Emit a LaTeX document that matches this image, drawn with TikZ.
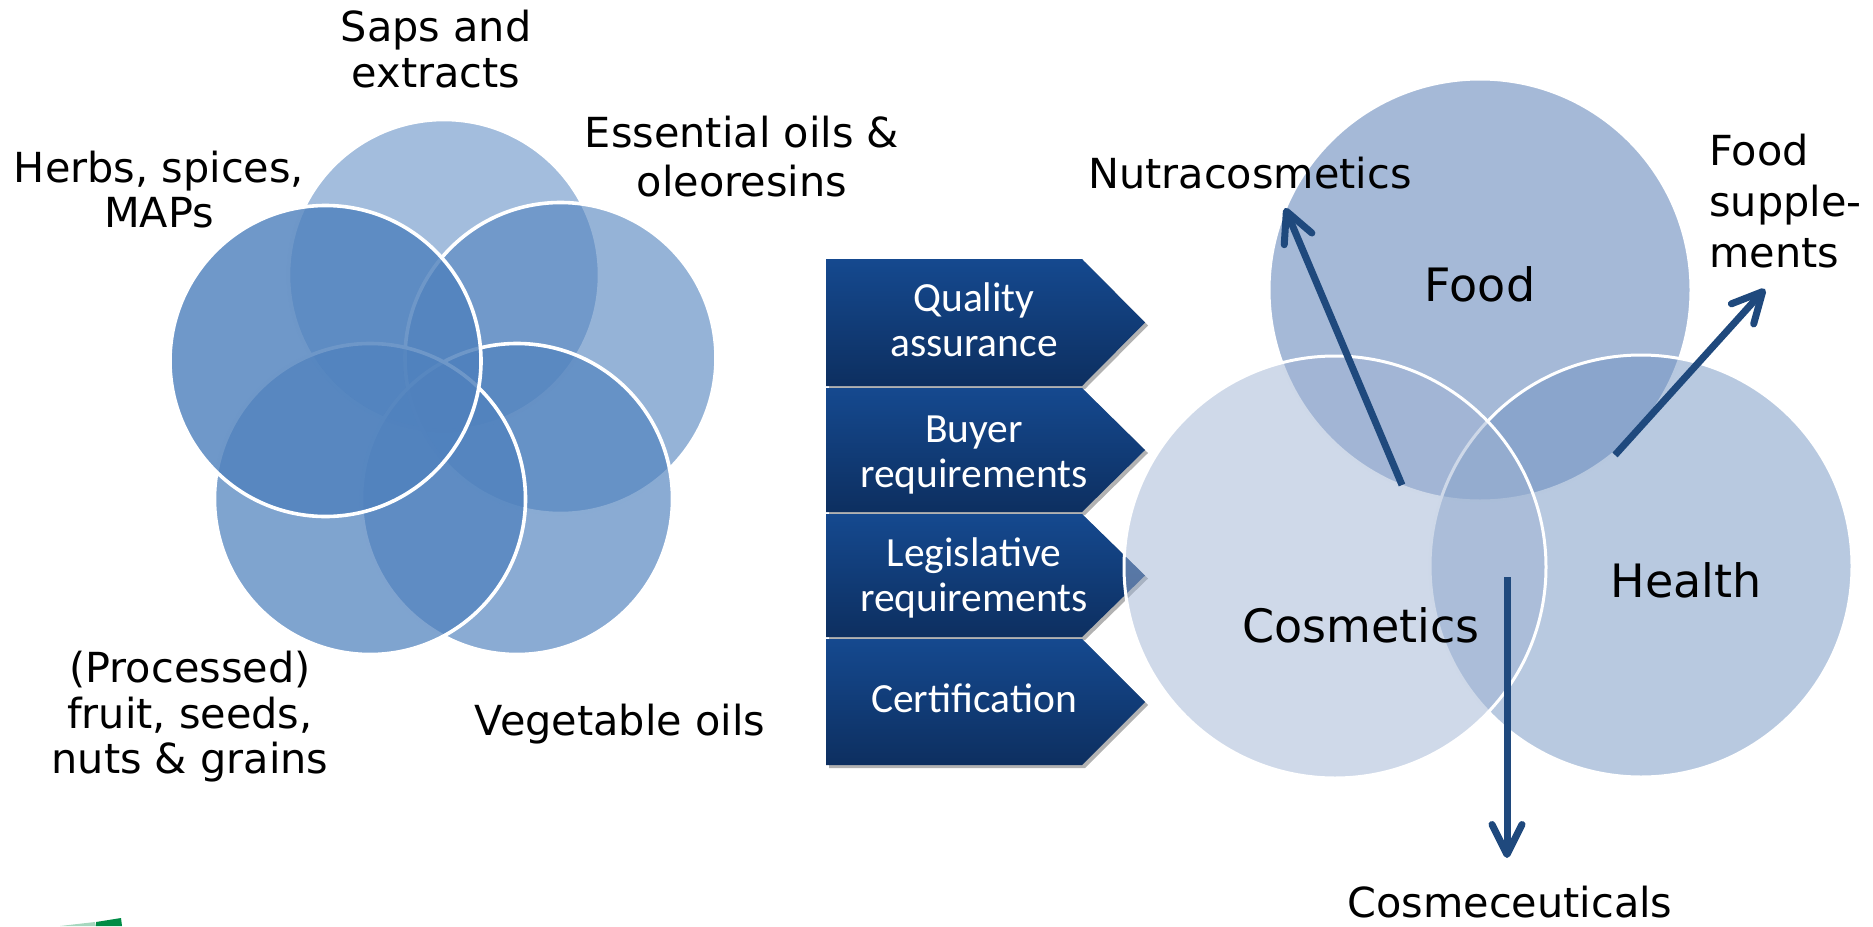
\documentclass[tikz,border=0pt]{standalone}
\usepackage{fontspec}
\setmainfont{DejaVu Sans}
\newfontfamily\chevfont{Carlito}
\usetikzlibrary{arrows.meta,shadows}
\definecolor{accent}{RGB}{79,129,189}
\definecolor{foodc}{RGB}{75,115,175}
\definecolor{healthc}{RGB}{113,147,193}
\definecolor{cosmc}{RGB}{159,179,211}
\definecolor{arrowc}{RGB}{31,73,125}
\definecolor{chevtop}{RGB}{21,73,143}
\definecolor{chevbot}{RGB}{13,47,96}
\definecolor{logogreen}{RGB}{0,140,70}
\begin{document}
\begin{tikzpicture}[x=0.5pt,y=-0.5pt,
  petal/.style={draw=white, line width=1.8pt, fill=accent},
  venn/.style={draw=white, line width=1.5pt, fill opacity=0.5},
  lbl/.style={inner sep=0pt, align=center},
  inlbl/.style={inner sep=0pt, anchor=base, font=\fontsize{23}{27}\selectfont},
  chev/.style={top color=chevtop, bottom color=chevbot,
    drop shadow={shadow xshift=1.5pt, shadow yshift=-1.5pt, opacity=0.3, fill=black}},
  chevtxt/.style={inner sep=0pt, text=white, align=center,
    font=\chevfont\fontsize{20.75}{22.5}\selectfont},
  arr/.style={draw=arrowc, line width=3.5pt,
    -{Straight Barb[length=15pt,width=15pt,round]}},
]
\useasboundingbox (0,0) rectangle (1873,926);

% ---- left flower ----
\path[petal, fill opacity=0.52]  (444,275) circle [radius=155.5];
\path[petal, fill opacity=0.60]  (560.5,358) circle [radius=155.5];
\path[petal, fill opacity=0.665] (517,499) circle [radius=155.5];
\path[petal, fill opacity=0.727] (370,499) circle [radius=155.5];
\path[petal, fill opacity=0.818] (325.5,361) circle [radius=155.5];

\node[lbl, font=\fontsize{20.7}{23}\selectfont] (saps) at (436,49) {Saps and\\extracts};
\node[lbl, font=\fontsize{20.7}{22.5}\selectfont] (herbs) at (159,190) {Herbs, spices,\\MAPs};
\node[lbl, font=\fontsize{20.7}{24.5}\selectfont] (essoils) at (742,157) {Essential oils \&\\oleoresins};
\node[lbl, font=\fontsize{20.7}{22.75}\selectfont] (processed) at (190,717) {(Processed)\\fruit, seeds,\\nuts \& grains};
\node[inner sep=0pt, anchor=base, font=\fontsize{20.7}{23}\selectfont] (vegoils) at (620,735) {Vegetable oils};

% ---- chevrons ----
\path[chev] (826,259) -- (1082,259) -- (1145,322.5) -- (1082,386) -- (826,386) -- cycle;
\path[chev] (826,388) -- (1082,388) -- (1145,450) -- (1082,512) -- (826,512) -- cycle;
\path[chev] (826,514) -- (1082,514) -- (1145,575.5) -- (1082,637) -- (826,637) -- cycle;
\path[chev] (826,639) -- (1082,639) -- (1145,702) -- (1082,765) -- (826,765) -- cycle;
\node[chevtxt] (quality) at (974,320) {Quality\\assurance};
\node[chevtxt] (buyer) at (974,455) {Buyer\\requirements};
\node[chevtxt] (legis) at (974,578) {Legislative\\requirements};
\node[chevtxt, anchor=base] (cert) at (974,712) {Certification};

% ---- right venn ----
\path[venn, fill=foodc]   (1480,290) circle [radius=211];
\path[venn, fill=healthc] (1641,566) circle [radius=211];
\path[venn, fill=cosmc]   (1335,567) circle [radius=211];

\node[inlbl] (food) at (1480,301) {Food};
\node[inlbl] (cosmetics) at (1361,642) {Cosmetics};
\node[inlbl] (health) at (1686,597) {Health};

\node[inner sep=0pt, anchor=base, font=\fontsize{20.7}{23}\selectfont] (nutra) at (1250,188) {Nutracosmetics};
\node[inner sep=0pt, anchor=base, font=\fontsize{20.7}{23}\selectfont] (cosmeceut) at (1510,917) {Cosmeceuticals};
\node[lbl, align=left, anchor=west, font=\fontsize{20.7}{25.5}\selectfont] (foodsup) at (1709,201) {Food\\supple-\\ments};

\coordinate (a1s) at (1402,485);
\coordinate (a1e) at (1285,208);
\coordinate (a2s) at (1615,455);
\coordinate (a2e) at (1765,289);
\coordinate (a3s) at (1507,577);
\coordinate (a3e) at (1507,858);
\draw[arr] (a1s) -- (a1e);
\draw[arr] (a2s) -- (a2e);
\draw[arr] (a3s) -- (a3e);

% ---- cut-off logo ----
\fill[logogreen!35] (60,926) -- (95,922) -- (96,926) -- cycle;
\fill[logogreen] (96,926) -- (96,922) -- (121,918) -- (122,926) -- cycle;
\end{tikzpicture}
\end{document}
